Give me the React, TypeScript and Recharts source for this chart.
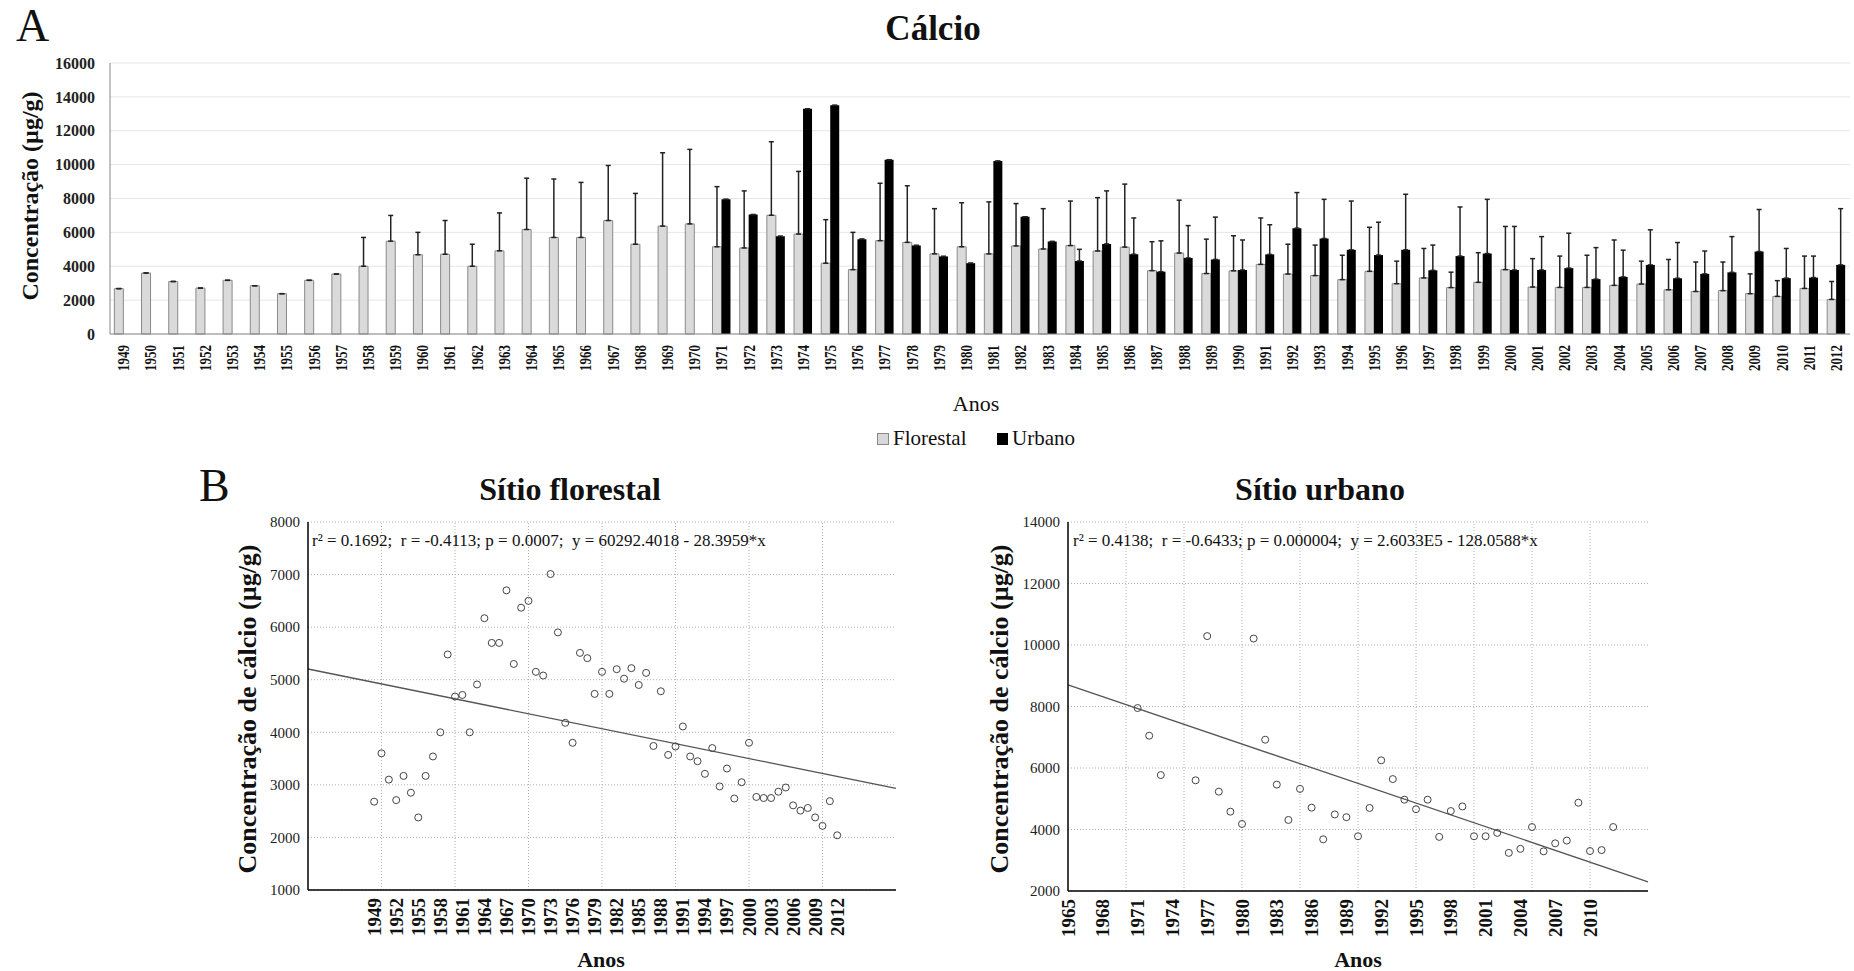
import React from 'react';
import {
  BarChart,
  Bar,
  XAxis,
  YAxis,
  CartesianGrid,
  ErrorBar,
  ReferenceArea,
  ReferenceLine,
  ScatterChart,
  Scatter,
} from 'recharts';

const SERIF = '"Liberation Serif", "Times New Roman", serif';

// years of the bar chart (categories)
const years = [
  1949, 1950, 1951, 1952, 1953, 1954, 1955, 1956, 1957, 1958,
  1959, 1960, 1961, 1962, 1963, 1964, 1965, 1966, 1967, 1968,
  1969, 1970, 1971, 1972, 1973, 1974, 1975, 1976, 1977, 1978,
  1979, 1980, 1981, 1982, 1983, 1984, 1985, 1986, 1987, 1988,
  1989, 1990, 1991, 1992, 1993, 1994, 1995, 1996, 1997, 1998,
  1999, 2000, 2001, 2002, 2003, 2004, 2005, 2006, 2007, 2008,
  2009, 2010, 2011, 2012,
];

// Florestal means (µg/g), one per year
const florestal = [
  2680, 3600, 3100, 2710, 3170, 2850, 2380, 3170, 3540, 4000,
  5480, 4680, 4710, 4000, 4910, 6170, 5700, 5700, 6700, 5300,
  6370, 6500, 5150, 5080, 7010, 5900, 4180, 3800, 5510, 5410,
  4730, 5150, 4730, 5200, 5020, 5220, 4900, 5130, 3740, 4780,
  3570, 3730, 4110, 3540, 3450, 3210, 3700, 2970, 3310, 2740,
  3050, 3800, 2770, 2750, 2750, 2870, 2950, 2610, 2510, 2560,
  2380, 2220, 2690, 2040,
];

// upper error of the Florestal bars
const florestalErr = [
  0, 0, 0, 0, 0, 0, 0, 0, 0, 1700,
  1520, 1320, 1990, 1300, 2240, 3030, 3450, 3250, 3250, 3000,
  4330, 4400, 3550, 3370, 4340, 3700, 2570, 2200, 3390, 3340,
  2670, 2600, 3070, 2500, 2380, 2630, 3150, 3720, 1710, 3120,
  2030, 2070, 2740, 1760, 1800, 1440, 2600, 1330, 1740, 910,
  1750, 2550, 1680, 1850, 1900, 2680, 1350, 1790, 1740, 1690,
  1170, 930, 1910, 1060,
];

// Urbano series starts in 1971
const urbanoFirstYear = 1971;
const urbano = [
  7950, 7050, 5770, 13300, 13500, 5600, 10290, 5230, 4580, 4180,
  10210, 6920, 5460, 4310, 5320, 4710, 3680, 4490, 4400, 3780,
  4700, 6250, 5640, 4970, 4660, 4970, 3760, 4600, 4750, 3780,
  3780, 3890, 3240, 3370, 4080, 3290, 3550, 3640, 4870, 3300,
  3330, 4080,
];
const urbanoErr = [
  0, 0, 0, 0, 0, 0, 0, 0, 0, 0,
  0, 0, 0, 690, 3130, 2140, 1820, 1910, 2500, 1770,
  1750, 2100, 2310, 2880, 1940, 3280, 1490, 2900, 3200, 2570,
  1970, 2060, 1860, 1580, 2070, 2110, 1350, 2110, 2480, 1750,
  1270, 3320,
];
// years left out of the urban scatter
const urbanoScatterSkip = [1974, 1975];

const barYTicks = [0, 2000, 4000, 6000, 8000, 10000, 12000, 14000, 16000];

// scatter: forest site
const florestalDomain = [1940, 2020];
const florestalYDomain = [1000, 8000];
const florestalXTicks = [
  1949, 1952, 1955, 1958, 1961, 1964, 1967, 1970, 1973, 1976, 1979,
  1982, 1985, 1988, 1991, 1994, 1997, 2000, 2003, 2006, 2009, 2012,
];
const florestalYTicks = [1000, 2000, 3000, 4000, 5000, 6000, 7000, 8000];
const florestalGridX = [1950, 1960, 1970, 1980, 1990, 2000, 2010];
const florestalFit = [
  { year: 1940, value: 5204 },
  { year: 2020, value: 2933 },
];

// scatter: urban site
const urbanoDomain = [1965, 2015];
const urbanoYDomain = [2000, 14000];
const urbanoXTicks = [
  1965, 1968, 1971, 1974, 1977, 1980, 1983, 1986, 1989, 1992, 1995,
  1998, 2001, 2004, 2007, 2010,
];
const urbanoYTicks = [2000, 4000, 6000, 8000, 10000, 12000, 14000];
const urbanoGridX = [1970, 1975, 1980, 1985, 1990, 1995, 2000, 2005, 2010];
const urbanoFit = [
  { year: 1965, value: 8700 },
  { year: 2015, value: 2300 },
];

const barRows = years.map((year, i) => {
  const k = year - urbanoFirstYear;
  const u = k >= 0 ? urbano[k] : null;
  return {
    year: String(year),
    florestal: florestal[i],
    florestalErr: [0, florestalErr[i]],
    urbano: u,
    urbanoErr: k >= 0 ? [0, urbanoErr[k]] : null,
  };
});

const florestalPoints = years.map((year, i) => ({ year, value: florestal[i] }));
const urbanoPoints = urbano
  .map((value, k) => ({ year: urbanoFirstYear + k, value }))
  .filter((p) => !urbanoScatterSkip.includes(p.year));

function Txt({ x, baseline, size, bold = false, center = false, children }: any) {
  return (
    <div
      style={{
        position: 'absolute',
        left: x,
        top: baseline - 0.8375 * size,
        fontSize: size,
        lineHeight: `${size}px`,
        fontWeight: bold ? 700 : 400,
        fontFamily: SERIF,
        whiteSpace: 'nowrap',
        color: '#111',
        transform: center ? 'translateX(-50%)' : undefined,
      }}
    >
      {children}
    </div>
  );
}

function VTxt({ cx, cy, size, children }: any) {
  return (
    <div
      style={{
        position: 'absolute',
        left: cx,
        top: cy,
        fontSize: size,
        lineHeight: `${size}px`,
        fontWeight: 700,
        fontFamily: SERIF,
        whiteSpace: 'nowrap',
        color: '#111',
        transform: 'translate(-50%, -50%) rotate(-90deg)',
      }}
    >
      {children}
    </div>
  );
}

function BarYearTick(props: any) {
  const { x, y, payload } = props;
  return (
    <g transform={`translate(${x},${y + 11})`}>
      <text
        transform="rotate(-90) scale(1,1.3)"
        textAnchor="end"
        dominantBaseline="central"
        fontFamily={SERIF}
        fontSize={13}
        fontWeight={700}
        fill="#111"
      >
        {payload.value}
      </text>
    </g>
  );
}

function ScatterYearTick(props: any) {
  const { x, y, payload } = props;
  return (
    <g transform={`translate(${x},${y + 8})`}>
      <text
        transform="rotate(-90)"
        textAnchor="end"
        dominantBaseline="central"
        fontFamily={SERIF}
        fontSize={19}
        fontWeight={700}
        fill="#111"
      >
        {payload.value}
      </text>
    </g>
  );
}

const Ring = (p: any) => <circle cx={p.cx} cy={p.cy} r={3.5} fill="none" stroke="#444" strokeWidth={1} />;

const scatterYTick = { fontSize: 15, fill: '#222', fontFamily: SERIF };

function SiteScatter({ points, xDomain, yDomain, xTicks, yTicks, gridX, fit, width, margin }: any) {
  return (
    <ScatterChart width={width} height={471} margin={margin}>
      <CartesianGrid vertical={false} stroke="#b0b0b0" strokeDasharray="1 2" />
      {gridX.map((g: number) => (
        <ReferenceLine key={g} x={g} stroke="#b0b0b0" strokeDasharray="1 2" />
      ))}
      <XAxis
        type="number"
        dataKey="year"
        domain={xDomain}
        ticks={xTicks}
        interval={0}
        height={50}
        tickLine={false}
        tickSize={0}
        tickMargin={0}
        axisLine={{ stroke: '#000', strokeWidth: 1.5 }}
        tick={<ScatterYearTick />}
      />
      {/* inward tick marks along the top and right borders */}
      <XAxis
        xAxisId="top"
        orientation="top"
        mirror
        type="number"
        domain={xDomain}
        ticks={gridX}
        interval={0}
        tick={false}
        tickSize={5}
        axisLine={false}
        tickLine={{ stroke: '#000' }}
      />
      <YAxis
        type="number"
        dataKey="value"
        domain={yDomain}
        ticks={yTicks}
        interval={0}
        width={60}
        tickLine={false}
        tickSize={6}
        tickMargin={2}
        axisLine={{ stroke: '#000', strokeWidth: 1.5 }}
        tick={scatterYTick}
      />
      <YAxis
        yAxisId="right"
        orientation="right"
        mirror
        type="number"
        domain={yDomain}
        ticks={yTicks}
        interval={0}
        tick={false}
        tickSize={5}
        axisLine={false}
        tickLine={{ stroke: '#000' }}
      />
      <ReferenceLine
        segment={[
          { x: fit[0].year, y: fit[0].value },
          { x: fit[1].year, y: fit[1].value },
        ]}
        stroke="#555"
        strokeWidth={1.3}
      />
      <Scatter data={points} shape={Ring} isAnimationActive={false} />
      <ReferenceArea fill="none" stroke="#000" strokeWidth={1.5} ifOverflow="visible" />
    </ScatterChart>
  );
}

export default function App() {
  return (
    <div style={{ position: 'absolute', left: 0, top: 0, width: 1854, height: 971, background: '#fff', overflow: 'hidden' }}>
      {/* panel A */}
      <div style={{ position: 'absolute', left: 0, top: 0 }}>
        <BarChart
          width={1854}
          height={460}
          data={barRows}
          margin={{ top: 63, right: 4, bottom: 76, left: 0 }}
          barCategoryGap="16%"
          barGap={0}
        >
          <CartesianGrid vertical={false} stroke="#e6e6e6" />
          <XAxis
            dataKey="year"
            interval={0}
            height={50}
            tickLine={false}
            tickSize={0}
            tickMargin={0}
            axisLine={{ stroke: '#888' }}
            tick={<BarYearTick />}
          />
          <YAxis
            domain={[0, 16000]}
            ticks={barYTicks}
            interval={0}
            width={110}
            tickLine={false}
            tickSize={8}
            tickMargin={7}
            axisLine={{ stroke: '#888' }}
            tick={{ fontSize: 16, fontWeight: 700, fill: '#222', fontFamily: SERIF }}
          />
          <Bar dataKey="florestal" fill="#dadada" stroke="#8a8a8a" strokeWidth={1} isAnimationActive={false}>
            <ErrorBar dataKey="florestalErr" direction="y" width={2.5} stroke="#222" strokeWidth={1.5} isAnimationActive={false} />
          </Bar>
          <Bar dataKey="urbano" fill="#000" isAnimationActive={false}>
            <ErrorBar dataKey="urbanoErr" direction="y" width={2.5} stroke="#222" strokeWidth={1.5} isAnimationActive={false} />
          </Bar>
          <ReferenceArea fill="none" stroke="#9a9a9a" strokeWidth={1} ifOverflow="visible" />
        </BarChart>
      </div>

      <Txt x={16} baseline={42} size={46}>A</Txt>
      <Txt x={933} baseline={40} size={35} bold center>Cálcio</Txt>
      <VTxt cx={30} cy={196} size={24}>Concentração (µg/g)</VTxt>
      <Txt x={976} baseline={411} size={22} center>Anos</Txt>

      {/* legend */}
      <div style={{ position: 'absolute', left: 877, top: 433, width: 10, height: 10, background: '#d8d8d8', border: '1px solid #888' }} />
      <Txt x={893} baseline={446} size={21}>Florestal</Txt>
      <div style={{ position: 'absolute', left: 997, top: 433, width: 11, height: 12, background: '#000' }} />
      <Txt x={1012} baseline={446} size={21}>Urbano</Txt>

      {/* panel B */}
      <Txt x={199} baseline={502} size={46}>B</Txt>

      <div style={{ position: 'absolute', left: 180, top: 500 }}>
        <SiteScatter
          points={florestalPoints}
          xDomain={florestalDomain}
          yDomain={florestalYDomain}
          xTicks={florestalXTicks}
          yTicks={florestalYTicks}
          gridX={florestalGridX}
          fit={florestalFit}
          width={760}
          margin={{ top: 22, right: 44, bottom: 31, left: 68 }}
        />
      </div>
      <Txt x={570} baseline={500} size={32} bold center>Sítio florestal</Txt>
      <VTxt cx={248} cy={709} size={26}>Concentração de cálcio (µg/g)</VTxt>
      <Txt x={312} baseline={546} size={17}>r² = 0.1692;&nbsp; r = -0.4113; p = 0.0007;&nbsp; y = 60292.4018 - 28.3959*x</Txt>
      <Txt x={601} baseline={967} size={22} bold center>Anos</Txt>

      <div style={{ position: 'absolute', left: 940, top: 500 }}>
        <SiteScatter
          points={urbanoPoints}
          xDomain={urbanoDomain}
          yDomain={urbanoYDomain}
          xTicks={urbanoXTicks}
          yTicks={urbanoYTicks}
          gridX={urbanoGridX}
          fit={urbanoFit}
          width={914}
          margin={{ top: 22, right: 206, bottom: 30, left: 68 }}
        />
      </div>
      <Txt x={1320} baseline={500} size={32} bold center>Sítio urbano</Txt>
      <VTxt cx={1000} cy={709} size={26}>Concentração de cálcio (µg/g)</VTxt>
      <Txt x={1073} baseline={546} size={17}>r² = 0.4138;&nbsp; r = -0.6433; p = 0.000004;&nbsp; y = 2.6033E5 - 128.0588*x</Txt>
      <Txt x={1358} baseline={967} size={22} bold center>Anos</Txt>
    </div>
  );
}
